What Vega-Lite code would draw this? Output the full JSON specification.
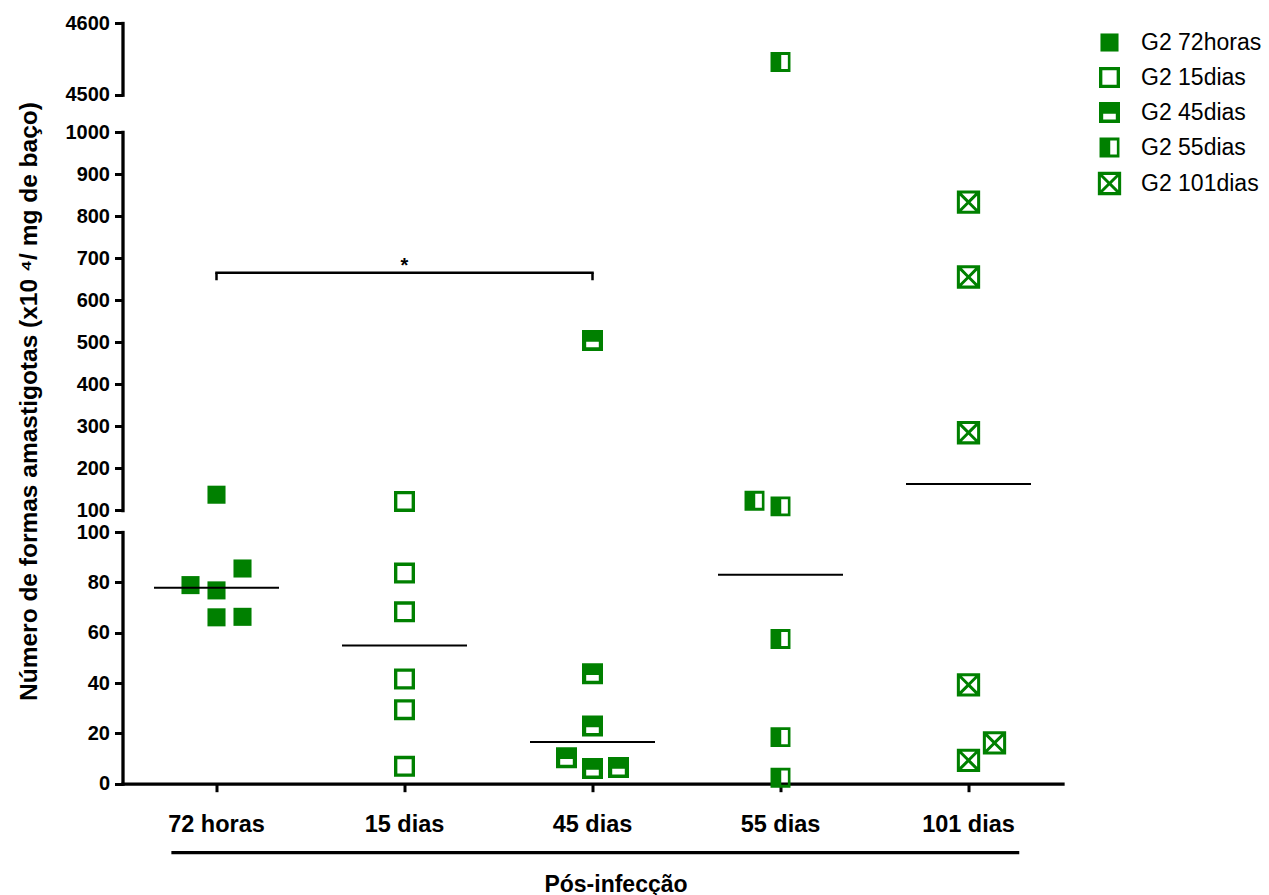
{
  "$schema": "https://vega.github.io/schema/vega-lite/v6.json",
  "background": "white",
  "padding": {"left": 15.5, "top": 13, "right": 5, "bottom": 5},
  "config": {
    "view": {"stroke": null},
    "font": "Liberation Sans",
    "axis": {
      "grid": false,
      "domainColor": "black",
      "domainWidth": 3.3,
      "domainCap": "square",
      "tickColor": "black",
      "tickWidth": 3,
      "tickSize": 8,
      "labelColor": "black",
      "labelFont": "Liberation Sans",
      "labelFontWeight": "bold",
      "labelFontSize": 20,
      "labelPadding": 5,
      "titleColor": "black",
      "titleFont": "Liberation Sans",
      "titleFontWeight": "bold"
    }
  },
  "datasets": {
    "amostras": [
      {"tempo": "72 horas", "valor": 136.4, "coluna": 0},
      {"tempo": "72 horas", "valor": 85.5, "coluna": 1},
      {"tempo": "72 horas", "valor": 78.9, "coluna": -1},
      {"tempo": "72 horas", "valor": 76.8, "coluna": 0},
      {"tempo": "72 horas", "valor": 66.1, "coluna": 0},
      {"tempo": "72 horas", "valor": 66.3, "coluna": 1},
      {"tempo": "15 dias", "valor": 120.5, "coluna": 0},
      {"tempo": "15 dias", "valor": 83.7, "coluna": 0},
      {"tempo": "15 dias", "valor": 68.3, "coluna": 0},
      {"tempo": "15 dias", "valor": 41.6, "coluna": 0},
      {"tempo": "15 dias", "valor": 29.4, "coluna": 0},
      {"tempo": "15 dias", "valor": 6.9, "coluna": 0},
      {"tempo": "45 dias", "valor": 503.8, "coluna": 0},
      {"tempo": "45 dias", "valor": 43.7, "coluna": 0},
      {"tempo": "45 dias", "valor": 22.9, "coluna": 0},
      {"tempo": "45 dias", "valor": 10.3, "coluna": -1},
      {"tempo": "45 dias", "valor": 6.0, "coluna": 0},
      {"tempo": "45 dias", "valor": 6.4, "coluna": 1},
      {"tempo": "55 dias", "valor": 4545.6, "coluna": 0},
      {"tempo": "55 dias", "valor": 122.1, "coluna": -1},
      {"tempo": "55 dias", "valor": 108.6, "coluna": 0},
      {"tempo": "55 dias", "valor": 57.5, "coluna": 0},
      {"tempo": "55 dias", "valor": 18.5, "coluna": 0},
      {"tempo": "55 dias", "valor": 2.4, "coluna": 0},
      {"tempo": "101 dias", "valor": 833, "coluna": 0},
      {"tempo": "101 dias", "valor": 654.8, "coluna": 0},
      {"tempo": "101 dias", "valor": 284, "coluna": 0},
      {"tempo": "101 dias", "valor": 39.3, "coluna": 0},
      {"tempo": "101 dias", "valor": 16.2, "coluna": 1},
      {"tempo": "101 dias", "valor": 9.3, "coluna": 0}
    ],
    "comparacao": [
      {"de": "72 horas", "meio": "15 dias", "ate": "45 dias", "topo": 665, "base": 647, "rotulo": "*"}
    ]
  },
  "spacing": 22,
  "bounds": "flush",
  "resolve": {"legend": {"shape": "independent"}},
  "vconcat": [
    {
      "width": 940,
      "height": 87,
      "data": {"name": "amostras"},
      "transform": [{"filter": "datum.valor >= 4500"}],
      "mark": {"type": "point", "filled": true, "fill": "#008000", "strokeWidth": 0, "size": 441, "opacity": 1},
      "encoding": {
        "x": {
          "field": "tempo", "type": "nominal",
          "scale": {"type": "band", "domain": ["72 horas", "15 dias", "45 dias", "55 dias", "101 dias"], "paddingInner": 0, "paddingOuter": 0},
          "axis": null
        },
        "xOffset": {"field": "coluna", "type": "ordinal", "scale": {"type": "point", "domain": [-1, 0, 1], "range": [68, 120], "padding": 0}},
        "y": {
          "field": "valor", "type": "quantitative",
          "scale": {"domain": [4500, 4600], "range": [71.7, 0], "nice": false, "zero": false},
          "axis": {"values": [4500, 4600], "format": "d", "title": null}
        },
        "shape": {
          "field": "tempo", "type": "nominal",
          "scale": {
            "domain": ["72 horas", "15 dias", "45 dias", "55 dias", "101 dias"],
            "range": [
              "M-0.86,-0.86H0.86V0.86H-0.86Z",
              "M-1,-1H1V1H-1ZM-0.68,-0.68V0.68H0.68V-0.68Z",
              "M-1,-1H1V1H-1ZM-0.6,0.12V0.66H0.6V0.12Z",
              "M-0.95,-0.95H0.95V0.95H-0.95ZM0.07,-0.67V0.67H0.7V-0.67Z",
              "M-1.11,-1.11H1.11V1.11H-1.11ZM-0.62,-0.82L0,-0.2L0.62,-0.82ZM0.82,-0.62L0.2,0L0.82,0.62ZM0.62,0.82L0,0.2L-0.62,0.82ZM-0.82,0.62L-0.2,0L-0.82,-0.62Z"
            ]
          },
          "legend": {
            "orient": "none",
            "legendX": 975.5,
            "legendY": 8,
            "title": null,
            "padding": 0,
            "labelExpr": "'G2 ' + replace(datum.label, ' ', '')",
            "labelFont": "Liberation Sans",
            "labelFontSize": 23,
            "labelColor": "black",
            "labelOffset": 20,
            "rowPadding": 11,
            "symbolSize": 441,
            "symbolFillColor": "#008000",
            "symbolStrokeWidth": 0,
            "symbolOpacity": 1
          }
        }
      }
    },
    {
      "width": 940,
      "height": 378,
      "layer": [
        {
          "data": {"name": "amostras"},
          "transform": [{"filter": "datum.valor > 100 && datum.valor <= 1000"}],
          "mark": {"type": "point", "filled": true, "fill": "#008000", "strokeWidth": 0, "size": 441, "opacity": 1},
          "encoding": {
            "x": {
              "field": "tempo", "type": "nominal",
              "scale": {"type": "band", "domain": ["72 horas", "15 dias", "45 dias", "55 dias", "101 dias"], "paddingInner": 0, "paddingOuter": 0},
              "axis": null
            },
            "xOffset": {"field": "coluna", "type": "ordinal", "scale": {"type": "point", "domain": [-1, 0, 1], "range": [68, 120], "padding": 0}},
            "y": {
              "field": "valor", "type": "quantitative",
              "scale": {"domain": [100, 1000], "nice": false, "zero": false},
              "axis": {
                "values": [100, 200, 300, 400, 500, 600, 700, 800, 900, 1000],
                "format": "d",
                "title": "Número de formas amastigotas (x10 ⁴/ mg de baço)",
                "titleFontSize": 24.5,
                "titleAngle": 270,
                "titleAlign": "center",
                "titleBaseline": "middle",
                "titleX": -93,
                "titleY": 269
              }
            },
            "shape": {"field": "tempo", "type": "nominal", "legend": null}
          }
        },
        {
          "data": {"name": "amostras"},
          "transform": [
            {"aggregate": [{"op": "median", "field": "valor", "as": "mediana"}], "groupby": ["tempo"]},
            {"filter": "datum.mediana > 100 && datum.mediana <= 1000"}
          ],
          "mark": {"type": "tick", "color": "black", "size": 125, "thickness": 2, "opacity": 1},
          "encoding": {
            "x": {"field": "tempo", "type": "nominal"},
            "y": {"field": "mediana", "type": "quantitative"}
          }
        },
        {
          "data": {"name": "comparacao"},
          "mark": {"type": "rule", "color": "black", "strokeWidth": 2.5, "strokeCap": "square"},
          "encoding": {
            "x": {"field": "de", "type": "nominal"},
            "x2": {"field": "ate"},
            "y": {"field": "topo", "type": "quantitative"}
          }
        },
        {
          "data": {"name": "comparacao"},
          "mark": {"type": "rule", "color": "black", "strokeWidth": 2.5},
          "encoding": {
            "x": {"field": "de", "type": "nominal"},
            "y": {"field": "base", "type": "quantitative"},
            "y2": {"field": "topo"}
          }
        },
        {
          "data": {"name": "comparacao"},
          "mark": {"type": "rule", "color": "black", "strokeWidth": 2.5},
          "encoding": {
            "x": {"field": "ate", "type": "nominal"},
            "y": {"field": "base", "type": "quantitative"},
            "y2": {"field": "topo"}
          }
        },
        {
          "data": {"name": "comparacao"},
          "mark": {"type": "text", "font": "Liberation Sans", "fontSize": 20, "fontWeight": "bold", "color": "black", "baseline": "alphabetic", "dy": -1},
          "encoding": {
            "x": {"field": "meio", "type": "nominal"},
            "y": {"field": "topo", "type": "quantitative"},
            "text": {"field": "rotulo"}
          }
        }
      ]
    },
    {
      "width": 940,
      "height": 251.7,
      "layer": [
        {
          "data": {"name": "amostras"},
          "transform": [{"filter": "datum.valor <= 100"}],
          "mark": {"type": "point", "filled": true, "fill": "#008000", "strokeWidth": 0, "size": 441, "opacity": 1},
          "encoding": {
            "x": {
              "field": "tempo", "type": "nominal",
              "scale": {"type": "band", "domain": ["72 horas", "15 dias", "45 dias", "55 dias", "101 dias"], "paddingInner": 0, "paddingOuter": 0},
              "axis": {
                "title": "Pós-infecção",
                "titleFontSize": 23,
                "titleX": 493,
                "titlePadding": 37,
                "labelFontSize": 23.5,
                "labelAngle": 0,
                "labelBaseline": "alphabetic",
                "labelPadding": 40
              }
            },
            "xOffset": {"field": "coluna", "type": "ordinal", "scale": {"type": "point", "domain": [-1, 0, 1], "range": [68, 120], "padding": 0}},
            "y": {
              "field": "valor", "type": "quantitative",
              "scale": {"domain": [0, 100], "nice": false, "zero": false},
              "axis": {"values": [0, 20, 40, 60, 80, 100], "format": "d", "title": null}
            },
            "shape": {"field": "tempo", "type": "nominal", "legend": null}
          }
        },
        {
          "data": {"name": "amostras"},
          "transform": [
            {"aggregate": [{"op": "median", "field": "valor", "as": "mediana"}], "groupby": ["tempo"]},
            {"filter": "datum.mediana <= 100"}
          ],
          "mark": {"type": "tick", "color": "black", "size": 125, "thickness": 2, "opacity": 1},
          "encoding": {
            "x": {"field": "tempo", "type": "nominal"},
            "y": {"field": "mediana", "type": "quantitative"}
          }
        },
        {
          "data": {"values": [{}]},
          "mark": {"type": "rule", "color": "black", "strokeWidth": 3.3},
          "encoding": {
            "x": {"datum": "72 horas", "bandPosition": 0.26},
            "x2": {"datum": "101 dias", "bandPosition": 0.77},
            "y": {"datum": -27.4}
          }
        }
      ]
    }
  ]
}
